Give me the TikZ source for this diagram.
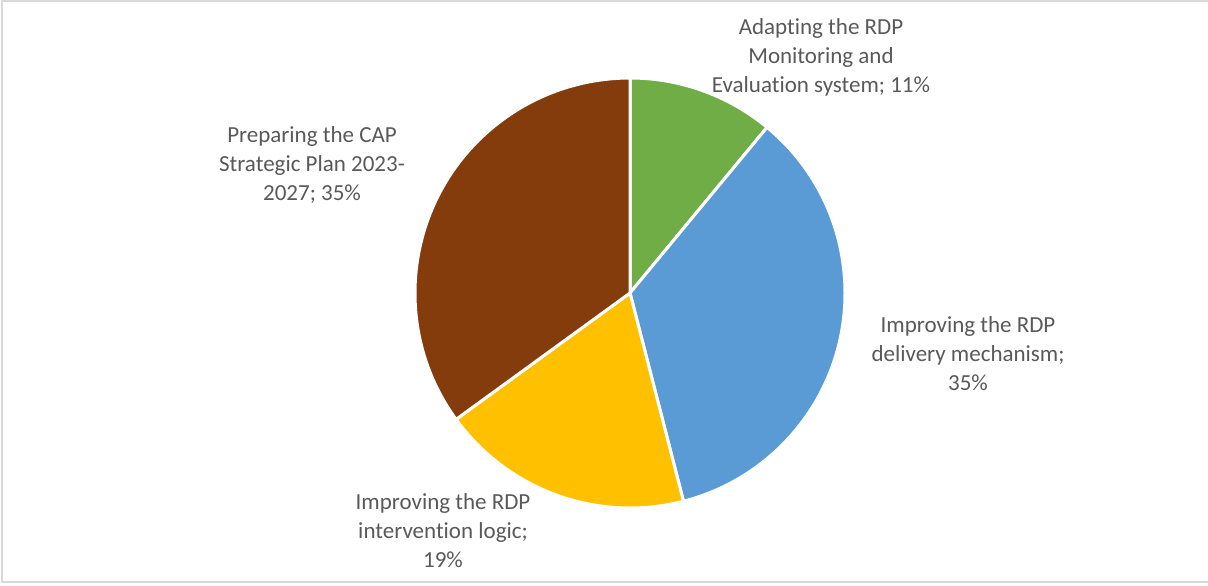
\documentclass[tikz,border=0pt]{standalone}
\usepackage{fontspec}
\setmainfont{Carlito}[RawFeature=-liga, RawFeature=-clig, RawFeature=-calt, RawFeature=-dlig]
\definecolor{slicegreen}{HTML}{70AD47}
\definecolor{sliceblue}{HTML}{5B9BD5}
\definecolor{sliceyellow}{HTML}{FFC000}
\definecolor{slicebrown}{HTML}{843C0C}
\definecolor{labelgray}{HTML}{595959}
\definecolor{framegray}{HTML}{D9D9D9}

\begin{document}
\begin{tikzpicture}[x=0.5pt,y=0.5pt,
  lbl/.style={align=center,text=labelgray,font=\fontsize{11.5}{14.5}\selectfont},
  slice/.style={draw=white,line width=1.5pt,line join=round}]
\useasboundingbox (0,0) rectangle (1208,585);
\draw [framegray, line width=1pt] (2,3) rectangle (1212,584);
\coordinate (o) at (630,292);
\filldraw [slice, fill=slicegreen] (o) -- ++(90:215) arc [start angle=90, end angle=50.4, radius=215] -- cycle;
\filldraw [slice, fill=sliceblue] (o) -- ++(50.4:215) arc [start angle=50.4, end angle=-75.6, radius=215] -- cycle;
\filldraw [slice, fill=sliceyellow] (o) -- ++(-75.6:215) arc [start angle=-75.6, end angle=-144, radius=215] -- cycle;
\filldraw [slice, fill=slicebrown] (o) -- ++(-144:215) arc [start angle=-144, end angle=-270, radius=215] -- cycle;
\node [lbl] (monitoring) at (821,528) {Adapting the RDP\\Monitoring and\\Evaluation system; 11\%};
\node [lbl] (delivery) at (968,231) {Improving the RDP\\delivery mechanism;\\35\%};
\node [lbl] (logic) at (443,54) {Improving the RDP\\intervention logic;\\19\%};
\node [lbl] (capplan) at (312,420) {Preparing the CAP\\Strategic Plan 2023-\\2027; 35\%};
\end{tikzpicture}
\end{document}
